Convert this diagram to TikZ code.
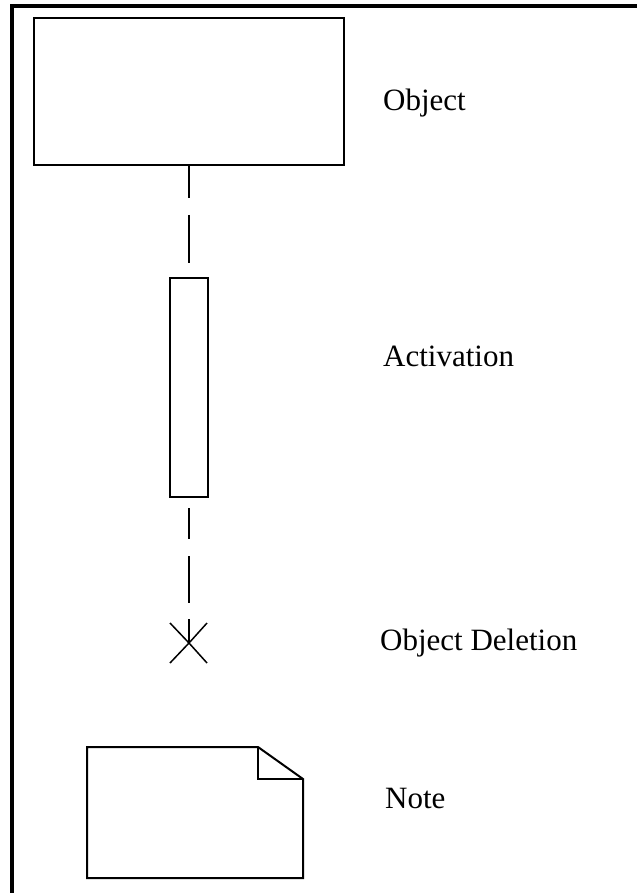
\documentclass[tikz,border=0pt]{standalone}
\usepackage{fontspec}
\setmainfont{Liberation Serif}
\begin{document}
\begin{tikzpicture}[x=1pt,y=-1pt,
  shape line/.style={draw=black,line width=2pt},
  label text/.style={anchor=base west,inner sep=0pt,font=\fontsize{31}{36}\selectfont},
  lifeline/.style={draw=black,line width=2pt}]
\useasboundingbox (0,0) rectangle (637,893);
\fill[white] (0,0) rectangle (637,893);
% frame
\draw[line width=4pt] (11.5,893) -- (11.5,6) -- (637,6);
% object
\node[shape line,rectangle,minimum width=310pt,minimum height=147pt,inner sep=0pt] (obj) at (189,91.5) {};
\node[label text] (lobj) at (383,111) {Object};
% activation
\node[shape line,rectangle,minimum width=38pt,minimum height=219pt,inner sep=0pt] (act) at (189,387.5) {};
\node[label text] (lact) at (383,366) {Activation};
% deletion
\coordinate (del) at (189,643);
\draw[lifeline,dash pattern=on 32pt off 17pt on 48pt off 16pt] (obj.south) -- (act.north);
\draw[lifeline,dash pattern=on 0pt off 10pt on 31pt off 17pt on 47pt off 16pt on 30pt] (act.south) -- (del);
\draw[line width=1.5pt] (170,623) -- (del) -- (207,663);
\draw[line width=1.5pt] (207,623) -- (del) -- (170,663);
\node[label text] (ldel) at (380,650) {Object Deletion};
% note
\draw[shape line,line join=miter] (87,747) -- (258,747) -- (303,779) -- (303,878) -- (87,878) -- cycle;
\draw[shape line] (258,747) -- (258,779) -- (303,779);
\node[label text] (lnote) at (385,808) {Note};
\end{tikzpicture}
\end{document}
